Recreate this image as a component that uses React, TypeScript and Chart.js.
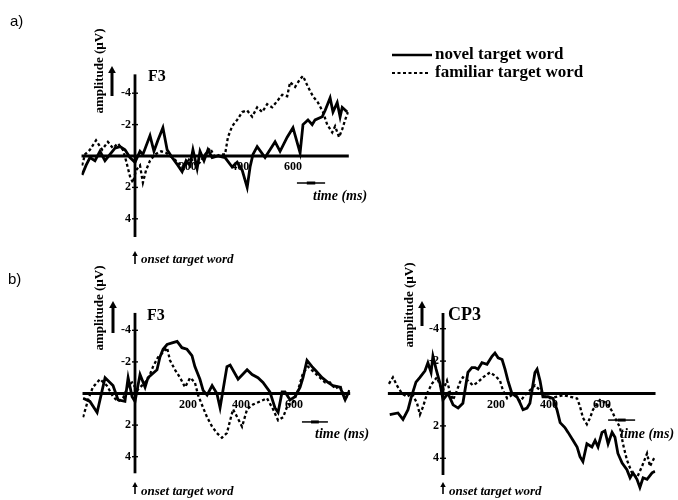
import React, { useEffect, useRef } from "react";
import { Chart, registerables } from "chart.js";

Chart.register(...registerables);

const W = 678;
const H = 500;

// ---------- texts ----------
const seriesNames = ["novel target word", "familiar target word"];
const yTitle = "amplitude (µV)";
const xTitle = "time (ms)";
const onsetLabel = "onset target word";
const yTickValues = [-4, -2, 2, 4];
const xTickValues = [200, 400, 600];

// ---------- a) F3 ----------
const aNovelTime = [-201, -186, -171, -152, -133, -114, -95, -76, -57, -38, -19, 0, 19, 30, 57, 72, 87, 106, 122, 141, 163, 179, 194, 209, 220, 236, 247, 262, 277, 293, 315, 342, 369, 388, 407, 426, 437, 448, 464, 494, 532, 551, 578, 600, 627, 638, 657, 673, 684, 711, 722, 741, 752, 768, 779, 787, 806];
const aNovelAmp = [1.2, 0.6, 0.1, 0.3, -0.3, 0.3, -0.1, -0.5, -0.6, -0.4, 0.1, 0.4, -0.3, -0.1, -1.3, -0.3, -1.0, -1.8, -0.4, 0.1, 0.6, 1.0, 0.3, 0.6, -0.4, 0.8, -0.3, 0.3, -0.4, 0.1, 0, 0.1, 0.7, 0.4, 0.9, 2.0, 0.7, -0.1, -0.6, 0.1, -0.9, -0.3, -1.2, -1.8, -0.2, -2.0, -2.3, -2.0, -2.3, -2.5, -2.9, -3.7, -2.8, -3.4, -2.5, -3.1, -2.8];
const aFamiliarTime = [-201, -190, -171, -148, -125, -103, -84, -65, -46, -34, -19, -8, 4, 19, 30, 42, 57, 76, 99, 118, 141, 163, 186, 209, 232, 247, 266, 285, 304, 323, 342, 353, 369, 388, 407, 426, 445, 464, 483, 502, 521, 540, 559, 578, 589, 608, 627, 638, 657, 676, 695, 714, 730, 749, 760, 775, 787, 798, 809];
const aFamiliarAmp = [0.6, -0.1, -0.4, -1.0, -0.4, -0.9, -0.5, -0.8, -0.4, 0.3, 1.3, 1.7, 0.9, 0.6, 1.7, 0.9, 0.3, -0.1, -0.3, -0.2, 0.1, 0.4, 0.8, 0.1, 0.6, 0.4, -0.1, -0.5, 0.1, -0.1, -0.1, -1.2, -1.9, -2.3, -2.8, -2.9, -2.5, -3.1, -2.8, -3.3, -3.1, -3.5, -3.9, -3.8, -4.7, -4.4, -4.9, -5.1, -4.4, -3.8, -3.4, -2.8, -2.0, -1.5, -1.9, -1.2, -1.7, -2.3, -2.8];

// ---------- b) F3 ----------
const bF3NovelTime = [-196, -170, -143, -113, -83, -64, -38, -26, -11, 0, 19, 38, 49, 83, 94, 106, 121, 140, 159, 177, 196, 215, 226, 245, 257, 272, 291, 309, 321, 347, 359, 389, 423, 442, 464, 483, 509, 528, 540, 555, 566, 585, 604, 623, 634, 649, 668, 679, 706, 728, 747, 774, 793, 804];
const bF3NovelAmp = [0.3, 0.5, 1.2, -1.0, -0.5, 0.4, 0.5, -1.0, 0.2, 0.5, -1.2, -0.4, -1.0, -1.5, -2.3, -2.8, -3.1, -3.2, -3.3, -2.9, -2.8, -2.4, -1.7, -0.9, -0.2, 0.1, -0.5, 0, 0.9, -1.7, -1.8, -0.9, -1.5, -1.2, -1.0, -0.7, -0.1, 0.9, 1.2, -0.1, -0.1, 0.4, 0.2, -0.4, -1.0, -2.1, -1.7, -1.5, -1.0, -0.7, -0.5, -0.4, 0.4, 0];
const bF3FamiliarTime = [-196, -177, -159, -132, -106, -83, -64, -45, -26, -11, 8, 26, 49, 68, 87, 106, 121, 132, 151, 170, 189, 208, 226, 238, 257, 272, 291, 309, 328, 347, 359, 370, 389, 404, 423, 445, 472, 498, 521, 540, 559, 577, 596, 615, 634, 653, 679, 698, 717, 736, 755, 774, 793, 811];
const bF3FamiliarAmp = [1.5, 0.4, -0.4, -0.9, -0.5, 0.2, 0.5, 0.3, -0.5, -0.7, -0.2, -0.5, -0.9, -1.7, -2.3, -2.6, -2.9, -2.1, -1.5, -1.0, -0.4, -1.0, -0.7, 0.1, 0.9, 1.5, 2.1, 2.5, 2.8, 2.5, 1.7, 1.0, 1.6, 2.1, 1.0, 0.7, 0.5, 0.3, 1.0, 1.7, 1.5, 0.7, 0.6, -0.2, -1.3, -1.7, -1.3, -1.0, -0.7, -0.7, -0.3, -0.5, 0.4, -0.3];

// ---------- b) CP3 ----------
const bCP3NovelTime = [-201, -170, -151, -132, -121, -102, -87, -68, -57, -45, -38, -26, -11, 0, 19, 38, 57, 75, 87, 94, 109, 121, 132, 147, 166, 185, 196, 208, 223, 234, 245, 260, 279, 291, 302, 317, 328, 340, 347, 355, 366, 377, 396, 415, 430, 442, 460, 472, 491, 506, 517, 528, 543, 562, 574, 585, 600, 611, 623, 638, 649, 660, 676, 694, 706, 717, 732, 743, 755, 770, 789, 800];
const bCP3NovelAmp = [1.3, 1.2, 1.6, 1.0, 0.3, -0.7, -1.0, -1.4, -1.9, -1.3, -2.3, -1.5, -0.6, 0.4, 0, 0.7, 0.9, 0.6, -0.6, -1.3, -1.6, -1.6, -1.5, -1.9, -1.8, -2.3, -2.5, -2.2, -2.1, -1.5, -0.8, 0, 0.2, 0.6, 1.0, 0.9, 0.6, -0.6, -1.3, -1.5, -0.8, 0.2, 0.2, 0.3, 1.0, 1.8, 2.1, 2.4, 2.9, 3.3, 3.9, 4.2, 3.1, 3.3, 2.9, 3.3, 2.4, 2.3, 3.1, 2.4, 2.7, 3.7, 4.3, 4.7, 5.2, 4.9, 5.3, 5.8, 5.2, 5.3, 4.9, 4.8];
const bCP3FamiliarTime = [-204, -189, -174, -155, -136, -117, -98, -87, -75, -60, -42, -23, -11, 0, 15, 26, 38, 53, 64, 75, 94, 113, 132, 151, 177, 196, 215, 226, 242, 260, 279, 291, 309, 328, 347, 366, 385, 404, 430, 453, 479, 506, 517, 528, 543, 555, 566, 592, 619, 638, 649, 668, 679, 694, 713, 732, 751, 770, 781, 793, 800];
const bCP3FamiliarAmp = [-0.6, -1.0, -0.5, 0, 0.2, 0, 0.6, 1.3, 0.8, 0, -0.6, -1.0, -0.5, -0.2, -0.8, -0.1, 0.4, -0.2, -0.7, -1.0, -0.8, -0.5, -0.7, -1.0, -1.3, -1.1, -0.8, -0.2, 0.3, 0.1, 0.2, 0.5, 0.1, -0.2, -0.5, -0.2, 0.2, 0.3, 0.2, 0.1, 0.2, 0.3, 0.8, 1.5, 1.9, 1.5, 1.0, 0.4, 0.6, 1.1, 1.5, 2.1, 3.1, 4.1, 4.9, 5.2, 4.5, 3.7, 4.5, 4.1, 3.9];

// ---------- layout (positions only) ----------
type PanelCfg = {
  name: string;
  novelT: number[]; novelV: number[]; famT: number[]; famV: number[];
  ox: number; oy: number; pxMs: number; pxUv: number;
  xMin: number; xMax: number; yMin: number; yMax: number;
  axisTop: number; axisBottom: number;
  nameX: number; nameY: number; nameSize: number;
  titleX: number; titleY: number;
  arrowX: number; arrowTop: number; arrowBottom: number;
  barFrom: number; barTo: number; barAt: number; timeX: number; timeY: number;
  onsetTop: number; onsetBottom: number; onsetTextY: number;
  letter?: string; letterX?: number; letterY?: number;
  legend?: boolean;
};

const panels: PanelCfg[] = [
  {
    name: "F3", novelT: aNovelTime, novelV: aNovelAmp, famT: aFamiliarTime, famV: aFamiliarAmp,
    ox: 135, oy: 156, pxMs: 0.2633, pxUv: 15.7,
    xMin: -203, xMax: 812, yMin: -5.4, yMax: 5.3, axisTop: -5.2, axisBottom: 5.16,
    nameX: 148, nameY: 81, nameSize: 16,
    titleX: 100, titleY: 71,
    arrowX: 112, arrowTop: 66, arrowBottom: 96,
    barFrom: 615, barTo: 722, barAt: 1.72, timeX: 313, timeY: 196,
    onsetTop: 251, onsetBottom: 264, onsetTextY: 263,
    letter: "a)", letterX: 10, letterY: 26, legend: true,
  },
  {
    name: "F3", novelT: bF3NovelTime, novelV: bF3NovelAmp, famT: bF3FamiliarTime, famV: bF3FamiliarAmp,
    ox: 135, oy: 393.5, pxMs: 0.265, pxUv: 15.8,
    xMin: -198, xMax: 812, yMin: -5.3, yMax: 5.2, axisTop: -5.1, axisBottom: 5.05,
    nameX: 147, nameY: 320, nameSize: 16,
    titleX: 100, titleY: 308,
    arrowX: 113, arrowTop: 301, arrowBottom: 333,
    barFrom: 630, barTo: 728, barAt: 1.8, timeX: 315, timeY: 434,
    onsetTop: 482, onsetBottom: 494, onsetTextY: 495,
    letter: "b)", letterX: 8, letterY: 284,
  },
  {
    name: "CP3", novelT: bCP3NovelTime, novelV: bCP3NovelAmp, famT: bCP3FamiliarTime, famV: bCP3FamiliarAmp,
    ox: 443, oy: 393.5, pxMs: 0.265, pxUv: 16.2,
    xMin: -208, xMax: 802, yMin: -5.2, yMax: 6.3, axisTop: -4.97, axisBottom: 5.03,
    nameX: 448, nameY: 320, nameSize: 18,
    titleX: 410, titleY: 305,
    arrowX: 422, arrowTop: 301, arrowBottom: 326,
    barFrom: 623, barTo: 725, barAt: 1.64, timeX: 620, timeY: 434,
    onsetTop: 482, onsetBottom: 494, onsetTextY: 495,
  },
];

const SERIF = "'Liberation Serif', 'DejaVu Serif', serif";

function drawUpArrow(ctx: CanvasRenderingContext2D, x: number, top: number, bottom: number, width: number, head: number) {
  ctx.lineWidth = width;
  ctx.beginPath();
  ctx.moveTo(x, bottom);
  ctx.lineTo(x, top + head * 0.8);
  ctx.stroke();
  ctx.beginPath();
  ctx.moveTo(x, top);
  ctx.lineTo(x - head * 0.55, top + head);
  ctx.lineTo(x + head * 0.55, top + head);
  ctx.closePath();
  ctx.fill();
}

function makeAnnotations(cfg: PanelCfg) {
  return {
    id: "erpAnnotations",
    afterDatasetsDraw(chart: any) {
      const ctx: CanvasRenderingContext2D = chart.ctx;
      const xs = chart.scales.x;
      const ys = chart.scales.y;
      const px = (t: number) => xs.getPixelForValue(t);
      const py = (v: number) => ys.getPixelForValue(v);
      ctx.save();
      ctx.strokeStyle = "#000";
      ctx.fillStyle = "#000";
      ctx.lineCap = "butt";

      // baseline (0 µV) and y axis at t = 0
      ctx.lineWidth = 2.8;
      ctx.beginPath();
      ctx.moveTo(px(cfg.xMin), py(0));
      ctx.lineTo(px(cfg.xMax), py(0));
      ctx.stroke();
      ctx.beginPath();
      ctx.moveTo(px(0), py(cfg.axisTop));
      ctx.lineTo(px(0), py(cfg.axisBottom));
      ctx.stroke();

      // y ticks
      ctx.lineWidth = 1.4;
      ctx.font = `bold 12px ${SERIF}`;
      ctx.textAlign = "right";
      ctx.textBaseline = "middle";
      for (const v of yTickValues) {
        ctx.beginPath();
        ctx.moveTo(px(0) - 3, py(v));
        ctx.lineTo(px(0) + 3, py(v));
        ctx.stroke();
        ctx.fillText(String(v), px(0) - 4, py(v));
      }
      // x tick labels
      ctx.textAlign = "center";
      ctx.textBaseline = "top";
      for (const t of xTickValues) {
        ctx.fillText(String(t), px(t), py(0) + 5);
      }

      // electrode name
      ctx.textAlign = "left";
      ctx.textBaseline = "alphabetic";
      ctx.font = `bold ${cfg.nameSize}px ${SERIF}`;
      ctx.fillText(cfg.name, cfg.nameX, cfg.nameY);

      // y title (rotated)
      ctx.save();
      ctx.translate(cfg.titleX, cfg.titleY);
      ctx.rotate(-Math.PI / 2);
      ctx.font = `bold 13px ${SERIF}`;
      ctx.textAlign = "center";
      ctx.textBaseline = "middle";
      ctx.fillText(yTitle, 0, 0);
      ctx.restore();
      drawUpArrow(ctx, cfg.arrowX, cfg.arrowTop, cfg.arrowBottom, 3, 7);

      // time scale bar
      const b0 = px(cfg.barFrom), b1 = px(cfg.barTo), by = py(cfg.barAt);
      ctx.lineWidth = 1.5;
      ctx.beginPath();
      ctx.moveTo(b0, by);
      ctx.lineTo(b1, by);
      ctx.stroke();
      ctx.lineWidth = 3;
      ctx.beginPath();
      ctx.moveTo(b0 + (b1 - b0) * 0.35, by);
      ctx.lineTo(b0 + (b1 - b0) * 0.65, by);
      ctx.stroke();
      ctx.font = `italic bold 14px ${SERIF}`;
      ctx.textAlign = "left";
      ctx.textBaseline = "middle";
      ctx.fillText(xTitle, cfg.timeX, cfg.timeY);

      // onset marker
      drawUpArrow(ctx, px(0), cfg.onsetTop, cfg.onsetBottom, 1.6, 5);
      ctx.font = `italic bold 13px ${SERIF}`;
      ctx.textBaseline = "alphabetic";
      ctx.fillText(onsetLabel, px(0) + 6, cfg.onsetTextY);

      // panel letter
      if (cfg.letter) {
        ctx.font = `15px 'Liberation Sans', Arial, sans-serif`;
        ctx.fillText(cfg.letter, cfg.letterX!, cfg.letterY!);
      }

      // legend
      if (cfg.legend) {
        ctx.font = `bold 17px ${SERIF}`;
        ctx.textBaseline = "middle";
        ctx.lineWidth = 2.6;
        ctx.beginPath();
        ctx.moveTo(392, 55);
        ctx.lineTo(432, 55);
        ctx.stroke();
        ctx.fillText(seriesNames[0], 435, 55);
        ctx.setLineDash([3, 2.5]);
        ctx.lineWidth = 2;
        ctx.beginPath();
        ctx.moveTo(392, 73);
        ctx.lineTo(430, 73);
        ctx.stroke();
        ctx.setLineDash([]);
        ctx.fillText(seriesNames[1], 435, 73);
      }
      ctx.restore();
    },
  };
}

function pts(t: number[], v: number[]) {
  return t.map((x, i) => ({ x, y: v[i] }));
}

function Panel({ cfg }: { cfg: PanelCfg }) {
  const ref = useRef<HTMLCanvasElement>(null);
  useEffect(() => {
    const canvas = ref.current!;
    const left = cfg.ox + cfg.xMin * cfg.pxMs;
    const right = cfg.ox + cfg.xMax * cfg.pxMs;
    const top = cfg.oy + cfg.yMin * cfg.pxUv;
    const bottom = cfg.oy + cfg.yMax * cfg.pxUv;
    const chart = new Chart(canvas, {
      type: "line",
      data: {
        datasets: [
          {
            label: seriesNames[0],
            data: pts(cfg.novelT, cfg.novelV),
            borderColor: "#000",
            borderWidth: 2.8,
            pointRadius: 0,
            tension: 0,
            fill: false,
          },
          {
            label: seriesNames[1],
            data: pts(cfg.famT, cfg.famV),
            borderColor: "#000",
            borderWidth: 2.3,
            borderDash: [3, 2.5],
            pointRadius: 0,
            tension: 0,
            fill: false,
          },
        ],
      },
      options: {
        responsive: false,
        animation: false,
        events: [],
        layout: { padding: { left, top, right: W - right, bottom: H - bottom } },
        plugins: { legend: { display: false }, tooltip: { enabled: false } },
        scales: {
          x: { type: "linear", min: cfg.xMin, max: cfg.xMax, display: false },
          y: { type: "linear", min: cfg.yMin, max: cfg.yMax, reverse: true, display: false },
        },
      } as any,
      plugins: [makeAnnotations(cfg)],
    });
    return () => chart.destroy();
  }, [cfg]);
  return (
    <canvas
      ref={ref}
      width={W}
      height={H}
      style={{ position: "absolute", left: 0, top: 0, width: W, height: H }}
    />
  );
}

export default function App() {
  useEffect(() => {
    document.body.style.margin = "0";
  }, []);
  return (
    <div style={{ position: "relative", width: W, height: H, background: "#fff", overflow: "hidden" }}>
      {panels.map((p, i) => (
        <Panel key={i} cfg={p} />
      ))}
    </div>
  );
}
